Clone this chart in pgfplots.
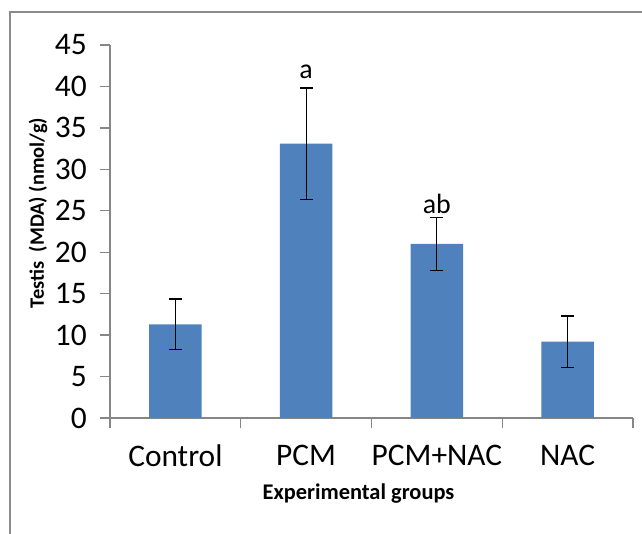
\documentclass[border=0pt]{standalone}
\usepackage{pgfplots}
\pgfplotsset{compat=1.18}
\usepackage{fontspec}
\setmainfont{Carlito}
\definecolor{barblue}{HTML}{4F81BD}
\definecolor{axgray}{HTML}{868686}
\definecolor{framegray}{HTML}{8C8C8C}
\begin{document}
\begin{tikzpicture}[x=1bp,y=1bp]
\useasboundingbox (0,0) rectangle (642,534);
\fill[white] (0,0) rectangle (642,534);
\draw[framegray, line width=2.2bp] (10,-2) -- (10,522) -- (644,522);
\begin{axis}[
  at={(110bp,116bp)}, anchor=south west,
  scale only axis, width=523bp, height=373bp,
  xmin=-0.5, xmax=3.5, ymin=0, ymax=45,
  axis x line=bottom, axis y line=left,
  axis line style={draw=axgray, line width=1.3bp, -},
  tick style={draw=axgray, line width=1.3bp},
  tick align=outside, major tick length=10bp,
  ytick={0,5,...,45},
  xtick={-0.5,0.5,1.5,2.5,3.5}, xticklabels={},
  extra x ticks={0,1,2,3},
  extra x tick labels={Control,PCM,PCM+NAC,NAC},
  extra x tick style={major tick length=0pt, tick style={draw=none}},
  /pgf/number format/assume math mode=true,
  ticklabel style={font=\fontsize{31.5}{36}\selectfont},
  yticklabel style={inner sep=0pt, xshift=-13bp},
  xticklabel style={inner sep=0pt, yshift=-27bp},
  clip=false,
]
\addplot[ybar, fill=barblue, draw=none, bar width=0.4,
  error bars/.cd, y dir=both, y explicit,
  error bar style={black, line width=1.2bp},
  error mark options={rotate=90, mark size=6.5bp, line width=1.2bp, black}]
  coordinates {(0,11.3) +- (0,3.05) (1,33.1) +- (0,6.7) (2,21.0) +- (0,3.2) (3,9.2) +- (0,3.1)};
\node[anchor=base, font=\fontsize{28}{30}\selectfont] at (axis cs:1,41.0) {a};
\node[anchor=base, font=\fontsize{28}{30}\selectfont] at (axis cs:2,24.7) {ab};
\end{axis}
\node[font=\bfseries\fontsize{22.5}{26}\selectfont] at (358.5,40) {Experimental groups};
\node[font=\bfseries\fontsize{20.5}{24}\selectfont, rotate=90] at (38,321) {Testis\ \ (MDA) (nmol/g)};
\end{tikzpicture}
\end{document}
